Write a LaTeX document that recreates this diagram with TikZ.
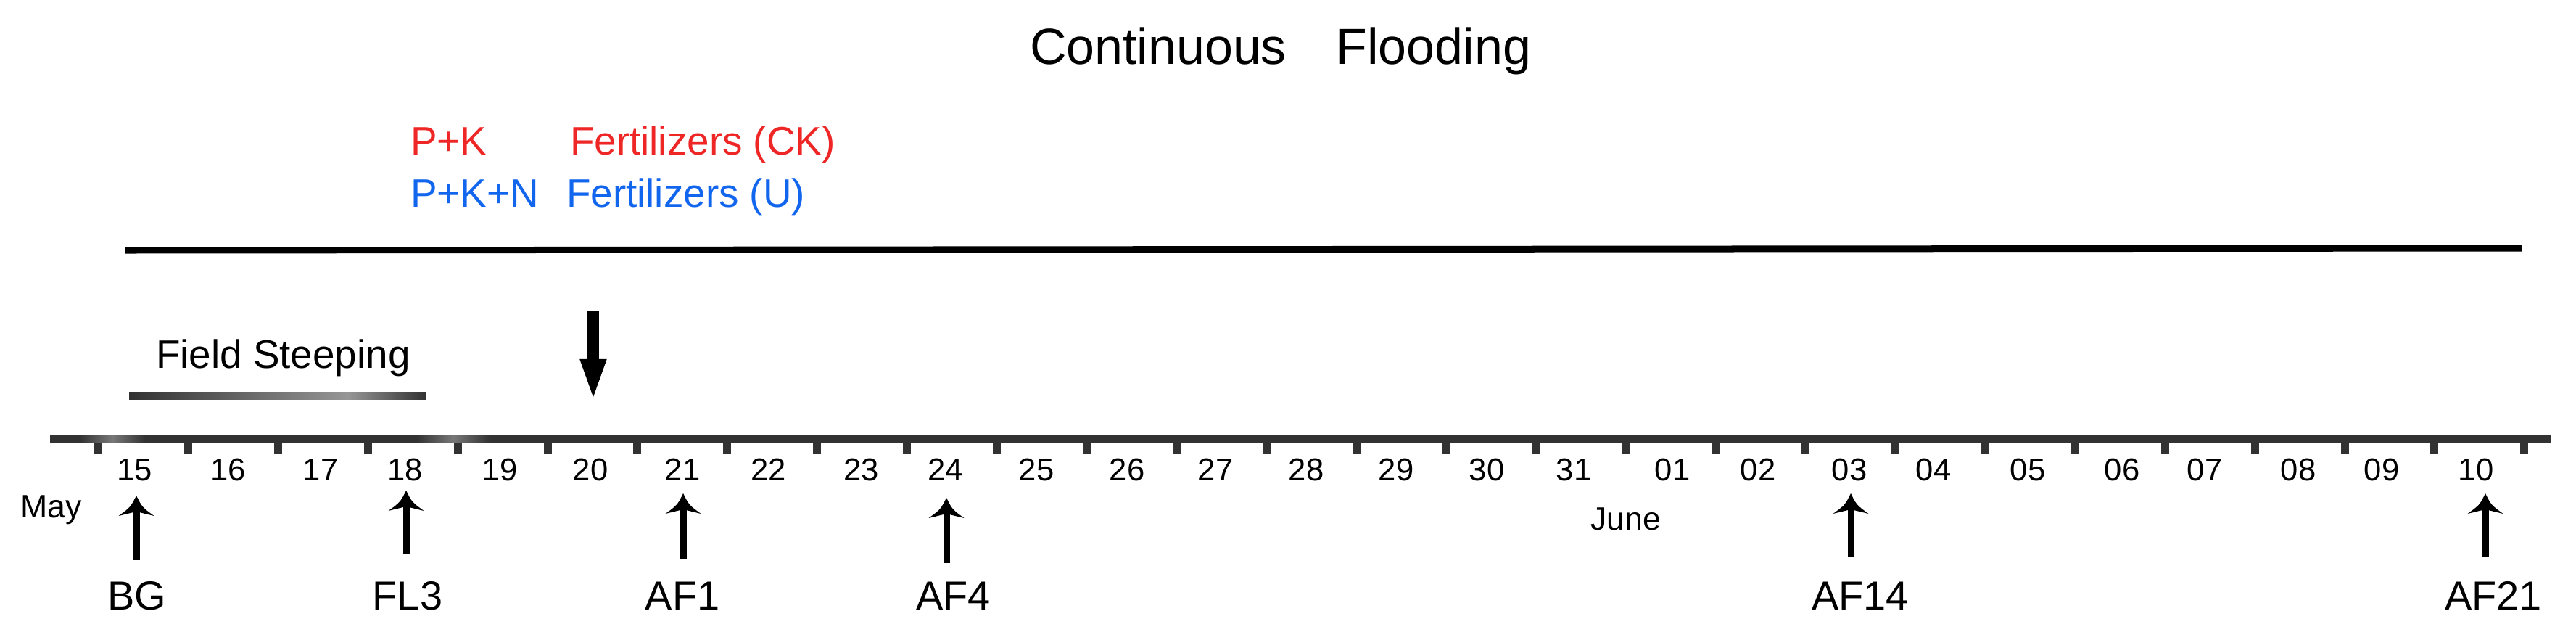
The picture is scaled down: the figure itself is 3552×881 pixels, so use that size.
\documentclass[tikz,border=0pt]{standalone}
\usepackage{fontspec}
\setmainfont{Liberation Sans}
\usetikzlibrary{arrows.meta}
\definecolor{fred}{RGB}{238,38,38}
\definecolor{fblue}{RGB}{18,102,238}
\definecolor{axisgray}{RGB}{50,50,50}
\definecolor{barlight}{RGB}{150,150,150}
\definecolor{axislight}{RGB}{120,120,120}
\begin{document}
\begin{tikzpicture}[x=0.01cm,y=-0.01cm,
  txt/.style={inner sep=0pt,outer sep=0pt},
  titletxt/.style={txt,anchor=base west,font=\fontsize{19.9}{24}\selectfont},
  fert/.style={txt,anchor=base west,font=\fontsize{15.6}{19}\selectfont},
  day/.style={txt,anchor=base,font=\fontsize{12.4}{15}\selectfont},
  month/.style={txt,anchor=base west,font=\fontsize{12.7}{15}\selectfont},
  stage/.style={txt,anchor=base,font=\fontsize{15.9}{19}\selectfont},
  shaft/.style={line width=2.56pt},
  downarrow/.style={line width=4.55pt,-{Triangle[length=16.5pt,width=9.1pt]}},
  pics/uphead/.style={code={
    \fill (0,0) .. controls (-8,16) .. (-24.5,28) -- (0,22) -- (24.5,28) .. controls (8,16) .. (0,0) -- cycle;
  }}]
\useasboundingbox (0,0) rectangle (3552,881);
% title
\node[titletxt] (title) at (1420,88) {Continuous\hspace{0.98em}Flooding};
% fertilizer legend
\node[fert,text=fred] (pk) at (566,213) {P+K};
\node[fert,text=fred] (fck) at (786,213) {Fertilizers (CK)};
\node[fert,text=fblue] (pkn) at (566,285) {P+K+N};
\node[fert,text=fblue] (fu) at (781,285) {Fertilizers (U)};
% flooding line
\coordinate (flA) at (173,345);
\coordinate (flB) at (3477,342);
\draw[line width=2.56pt] (flA) -- (flB);
% field steeping
\node[fert] (fs) at (215,507) {Field Steeping};
\shade[left color=axisgray,right color=barlight] (178,540) rectangle (480,550);
\shade[left color=barlight,right color=axisgray] (480,540) rectangle (587,550);
% fertilizer arrow
\coordinate (faT) at (818,429);
\coordinate (faB) at (818,553);
\draw[downarrow] (faT) -- (faB);
% axis
\fill[axisgray] (69,599) rectangle (3518,610);
\shade[left color=axisgray,right color=axisgray,middle color=axislight] (110,599) rectangle (200,610);
\shade[left color=axisgray,right color=axisgray,middle color=axislight] (575,599) rectangle (675,610);
\foreach \n in {0,...,27}
  \fill[axisgray] ({135.5+123.9*\n-5.5},610) rectangle ++(11,16);
\foreach \x/\d [count=\i] in {186/15,315/16,442/17,558.5/18,689/19,814/20,941/21,1059.5/22,1187.5/23,1303.5/24,1429/25,1554/26,1676/27,1801/28,1925/29,2050/30,2170/31,2306/01,2424/02,2550/03,2666/04,2796/05,2926/06,3040/07,3169/08,3284/09,3414/10}
  \node[day] (d\i) at (\x,662) {\d};
\node[month] (may) at (28,713) {May};
\node[month] (june) at (2193,730) {June};
% stage arrows and labels
\foreach \nm/\ax/\tip/\bot/\lx/\lab in {bg/188/683/772/188.5/BG, fl/560/676/764/562/FL3, afa/942/680/771/941/AF1, afb/1305/686/776/1314.5/AF4, afc/2552/680/768/2565/AF14, afd/3427/680/768/3438/AF21}{
  \coordinate (\nm B) at (\ax,\bot);
  \coordinate (\nm T) at (\ax,\tip);
  \coordinate (\nm N) at (\ax,\tip+21);
  \draw[shaft] (\nm B) -- (\nm N);
  \pic at (\nm T) {uphead};
  \node[stage] (\nm L) at (\lx,840) {\lab};
}
\end{tikzpicture}
\end{document}
